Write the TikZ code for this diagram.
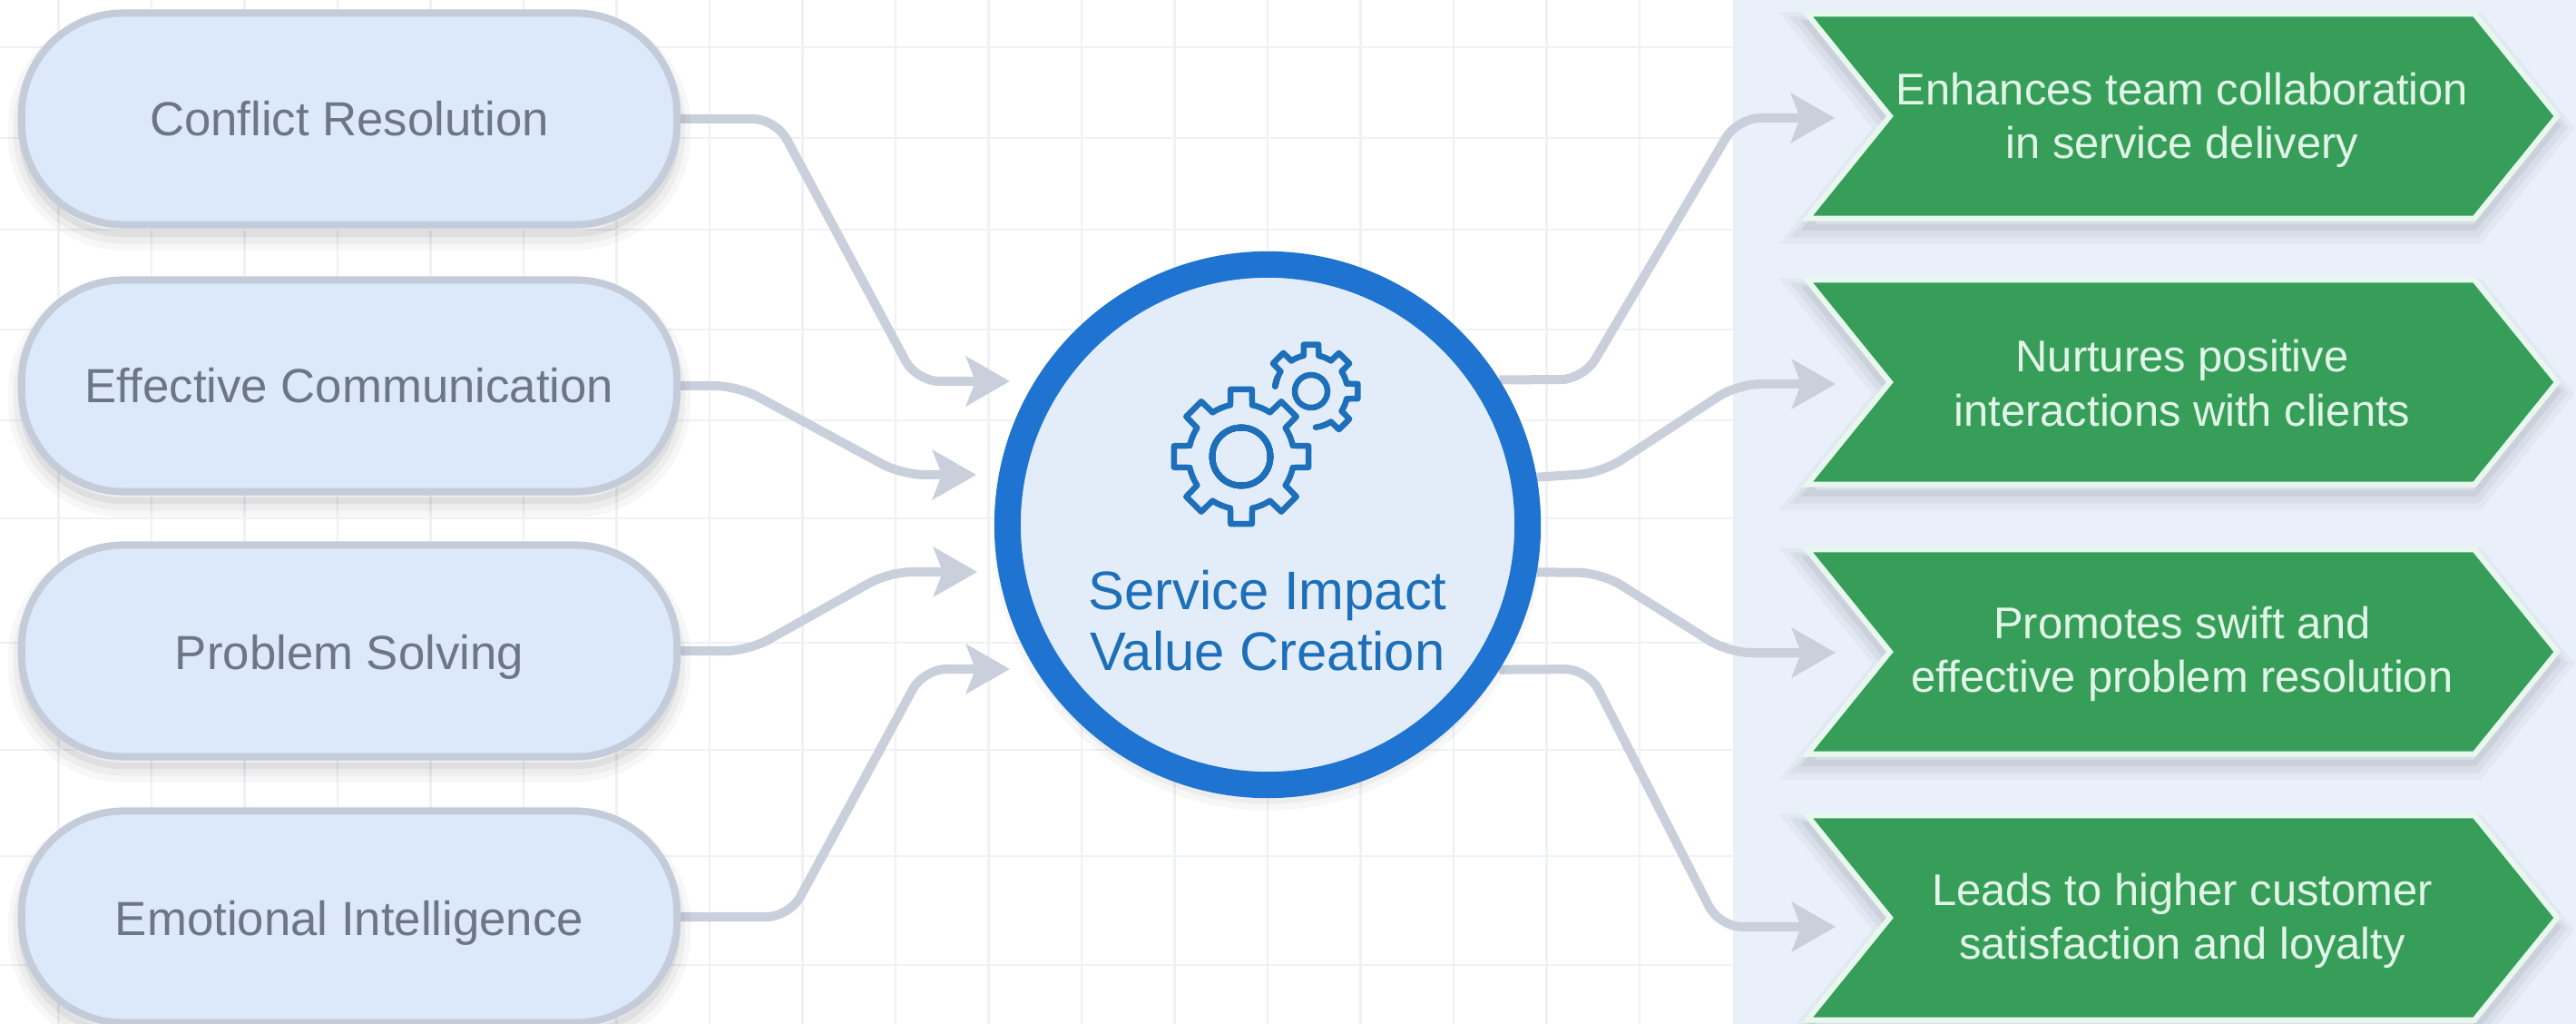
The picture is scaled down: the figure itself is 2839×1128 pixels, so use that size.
\documentclass[tikz,border=0pt]{standalone}
\usepackage{fontspec}
\setmainfont{Liberation Sans}
\usetikzlibrary{shapes.symbols,arrows.meta,backgrounds}
\definecolor{pillfill}{HTML}{DCE9FB}
\definecolor{pillline}{HTML}{C3CCD8}
\definecolor{pilltext}{HTML}{6B7785}
\definecolor{gridc}{HTML}{F0F1F4}
\definecolor{panelc}{HTML}{E9F0FA}
\definecolor{chevfill}{HTML}{379E5A}
\definecolor{chevline}{HTML}{E8F8EE}
\definecolor{chevtext}{HTML}{E2F6E8}
\definecolor{ringc}{HTML}{1F74D1}
\definecolor{hubfill}{HTML}{E3EDFA}
\definecolor{hubtext}{HTML}{1C6FB8}
\definecolor{conn}{HTML}{C9D0DB}
\pgfdeclarelayer{grid}
\pgfdeclarelayer{links}
\pgfsetlayers{grid,links,main}
\tikzset{
  softshadow/.style={
    preaction={draw=black,line width=.30cm,opacity=.03,transform canvas={yshift=-.13cm}},
    preaction={draw=black,line width=.18cm,opacity=.04,transform canvas={yshift=-.12cm}},
    preaction={draw=black,line width=.07cm,opacity=.06,transform canvas={yshift=-.10cm}}},
  pill/.style={softshadow,draw=pillline,fill=pillfill,line width=.08cm,rectangle,rounded corners=1.12cm,
    minimum width=7.22cm,minimum height=2.33cm,outer sep=0pt,inner sep=0pt,text=pilltext,
    font=\fontsize{15pt}{17pt}\selectfont},
  lowtext/.style={text height=11.6pt,text depth=0pt},
  chev/.style={softshadow,draw=chevline,fill=chevfill,line width=.06cm,signal,signal to=east,signal from=west,
    signal pointer angle=102,minimum width=8.26cm,minimum height=2.25cm,inner sep=0pt,outer sep=0pt},
  chevtxt/.style={text=chevtext,align=center,inner sep=0pt,font=\fontsize{13.9pt}{16.8pt}\selectfont},
  hub/.style={softshadow,circle,draw=ringc,fill=hubfill,line width=.29cm,minimum size=5.73cm,inner sep=0pt,outer sep=.145cm},
  hubtxt/.style={text=hubtext,align=center,font=\fontsize{17pt}{19pt}\selectfont,inner sep=0pt},
  link/.style={draw=conn,line width=.1cm,rounded corners=.25cm,-{Stealth[length=4.8mm,width=5.4mm,inset=1mm]}},
  gridline/.style={draw=gridc,line width=.025cm},
  gearline/.style={draw=hubtext,line width=.065cm,line join=round,line cap=round}
}
\newcommand{\geartooth}[3]{% angle, outer radius, inner radius
  \draw[gearline] ({#1-22.5}:#3) arc[start angle={#1-22.5},end angle={#1-12},radius=#3]
    -- ({#1-9}:#2) -- ({#1+9}:#2) -- ({#1+12}:#3)
    arc[start angle={#1+12},end angle={#1+22.5},radius=#3];}
\begin{document}
\begin{tikzpicture}[x=.01cm,y=-.01cm]
\useasboundingbox (0,0) rectangle (2839,1128);
\begin{pgfonlayer}{grid}
  \fill[white] (0,0) rectangle (2839,1128);
  \foreach \k in {0,...,17} \draw[gridline] ({64.5+102.5*\k},0) -- ({64.5+102.5*\k},1128);
  \foreach \yy in {52,152,253,363,463,571,708,826,943,1063} \draw[gridline] (0,\yy) -- (1910,\yy);
  \fill[panelc] (1910,0) rectangle (2839,1128);
\end{pgfonlayer}

\node[pill] (p1) at (385,131) {Conflict Resolution};
\node[pill] (p2) at (385,425) {Effective Communication};
\node[pill,lowtext] (p3) at (385,717) {Problem Solving};
\node[pill,lowtext] (p4) at (385,1010) {Emotional Intelligence};

\node[hub] (hub) at (1397,578) {};
\node[hubtxt] (hubt) at (1397,684) {Service Impact\\Value Creation};

\begin{scope}[shift={(1368,503)}]
  \foreach \a in {0,45,...,315} \geartooth{\a}{.75cm}{.58cm}
  \draw[gearline] (0,0) circle[radius=.32cm];
\end{scope}
\begin{scope}[shift={(1445,431)}]
  \foreach \a in {-45,0,45,90,135} \geartooth{\a}{.52cm}{.40cm}
  \draw[gearline] (157.5:.40cm) arc[start angle=157.5,end angle=172,radius=.40cm];
  \draw[gearline] (-67.5:.40cm) arc[start angle=-67.5,end angle=-83,radius=.40cm];
  \draw[gearline] (0,0) circle[radius=.18cm];
\end{scope}

\node[chev] (c1) at (2405,128) {};
\node[chev] (c2) at (2405,421) {};
\node[chev] (c3) at (2405,718) {};
\node[chev] (c4) at (2405,1011) {};
\node[chevtxt] (c1t) at (2405,132) {Enhances team collaboration\\in service delivery};
\node[chevtxt] (c2t) at (2405,422) {Nurtures positive\\interactions with clients};
\node[chevtxt] (c3t) at (2405,720) {Promotes swift and\\effective problem resolution};
\node[chevtxt] (c4t) at (2405,1014) {Leads to higher customer\\satisfaction and loyalty};

\coordinate (l1) at (1113,420);
\coordinate (l2) at (1076,523);
\coordinate (l3) at (1077,630);
\coordinate (l4) at (1113,737);
\coordinate (r1) at (2022,130);
\coordinate (r2) at (2023,423);
\coordinate (r3) at (2023,719);
\coordinate (r4) at (2023,1021);

\begin{pgfonlayer}{links}
  \draw[link] (p1.east) -- (855,131) -- (1010,420) -- (l1);
  \draw[link] (p2.east) -- (813,425) -- (994,523) -- (l2);
  \draw[link] (p3.east) -- (825,717) -- (980,630) -- (l3);
  \draw[link] (p4.east) -- (870,1010) -- (1018,737) -- (l4);
  \draw[link] (hub.32.1) -- (1745,418) -- (1915,130) -- (r1);
  \draw[link] (hub.10.9) -- (1765,521) -- (1915,423) -- (r2);
  \draw[link] (hub.-10.1) -- (1765,631) -- (1905,719) -- (r3);
  \draw[link] (hub.-32) -- (1750,737) -- (1895,1021) -- (r4);
\end{pgfonlayer}
\end{tikzpicture}
\end{document}
